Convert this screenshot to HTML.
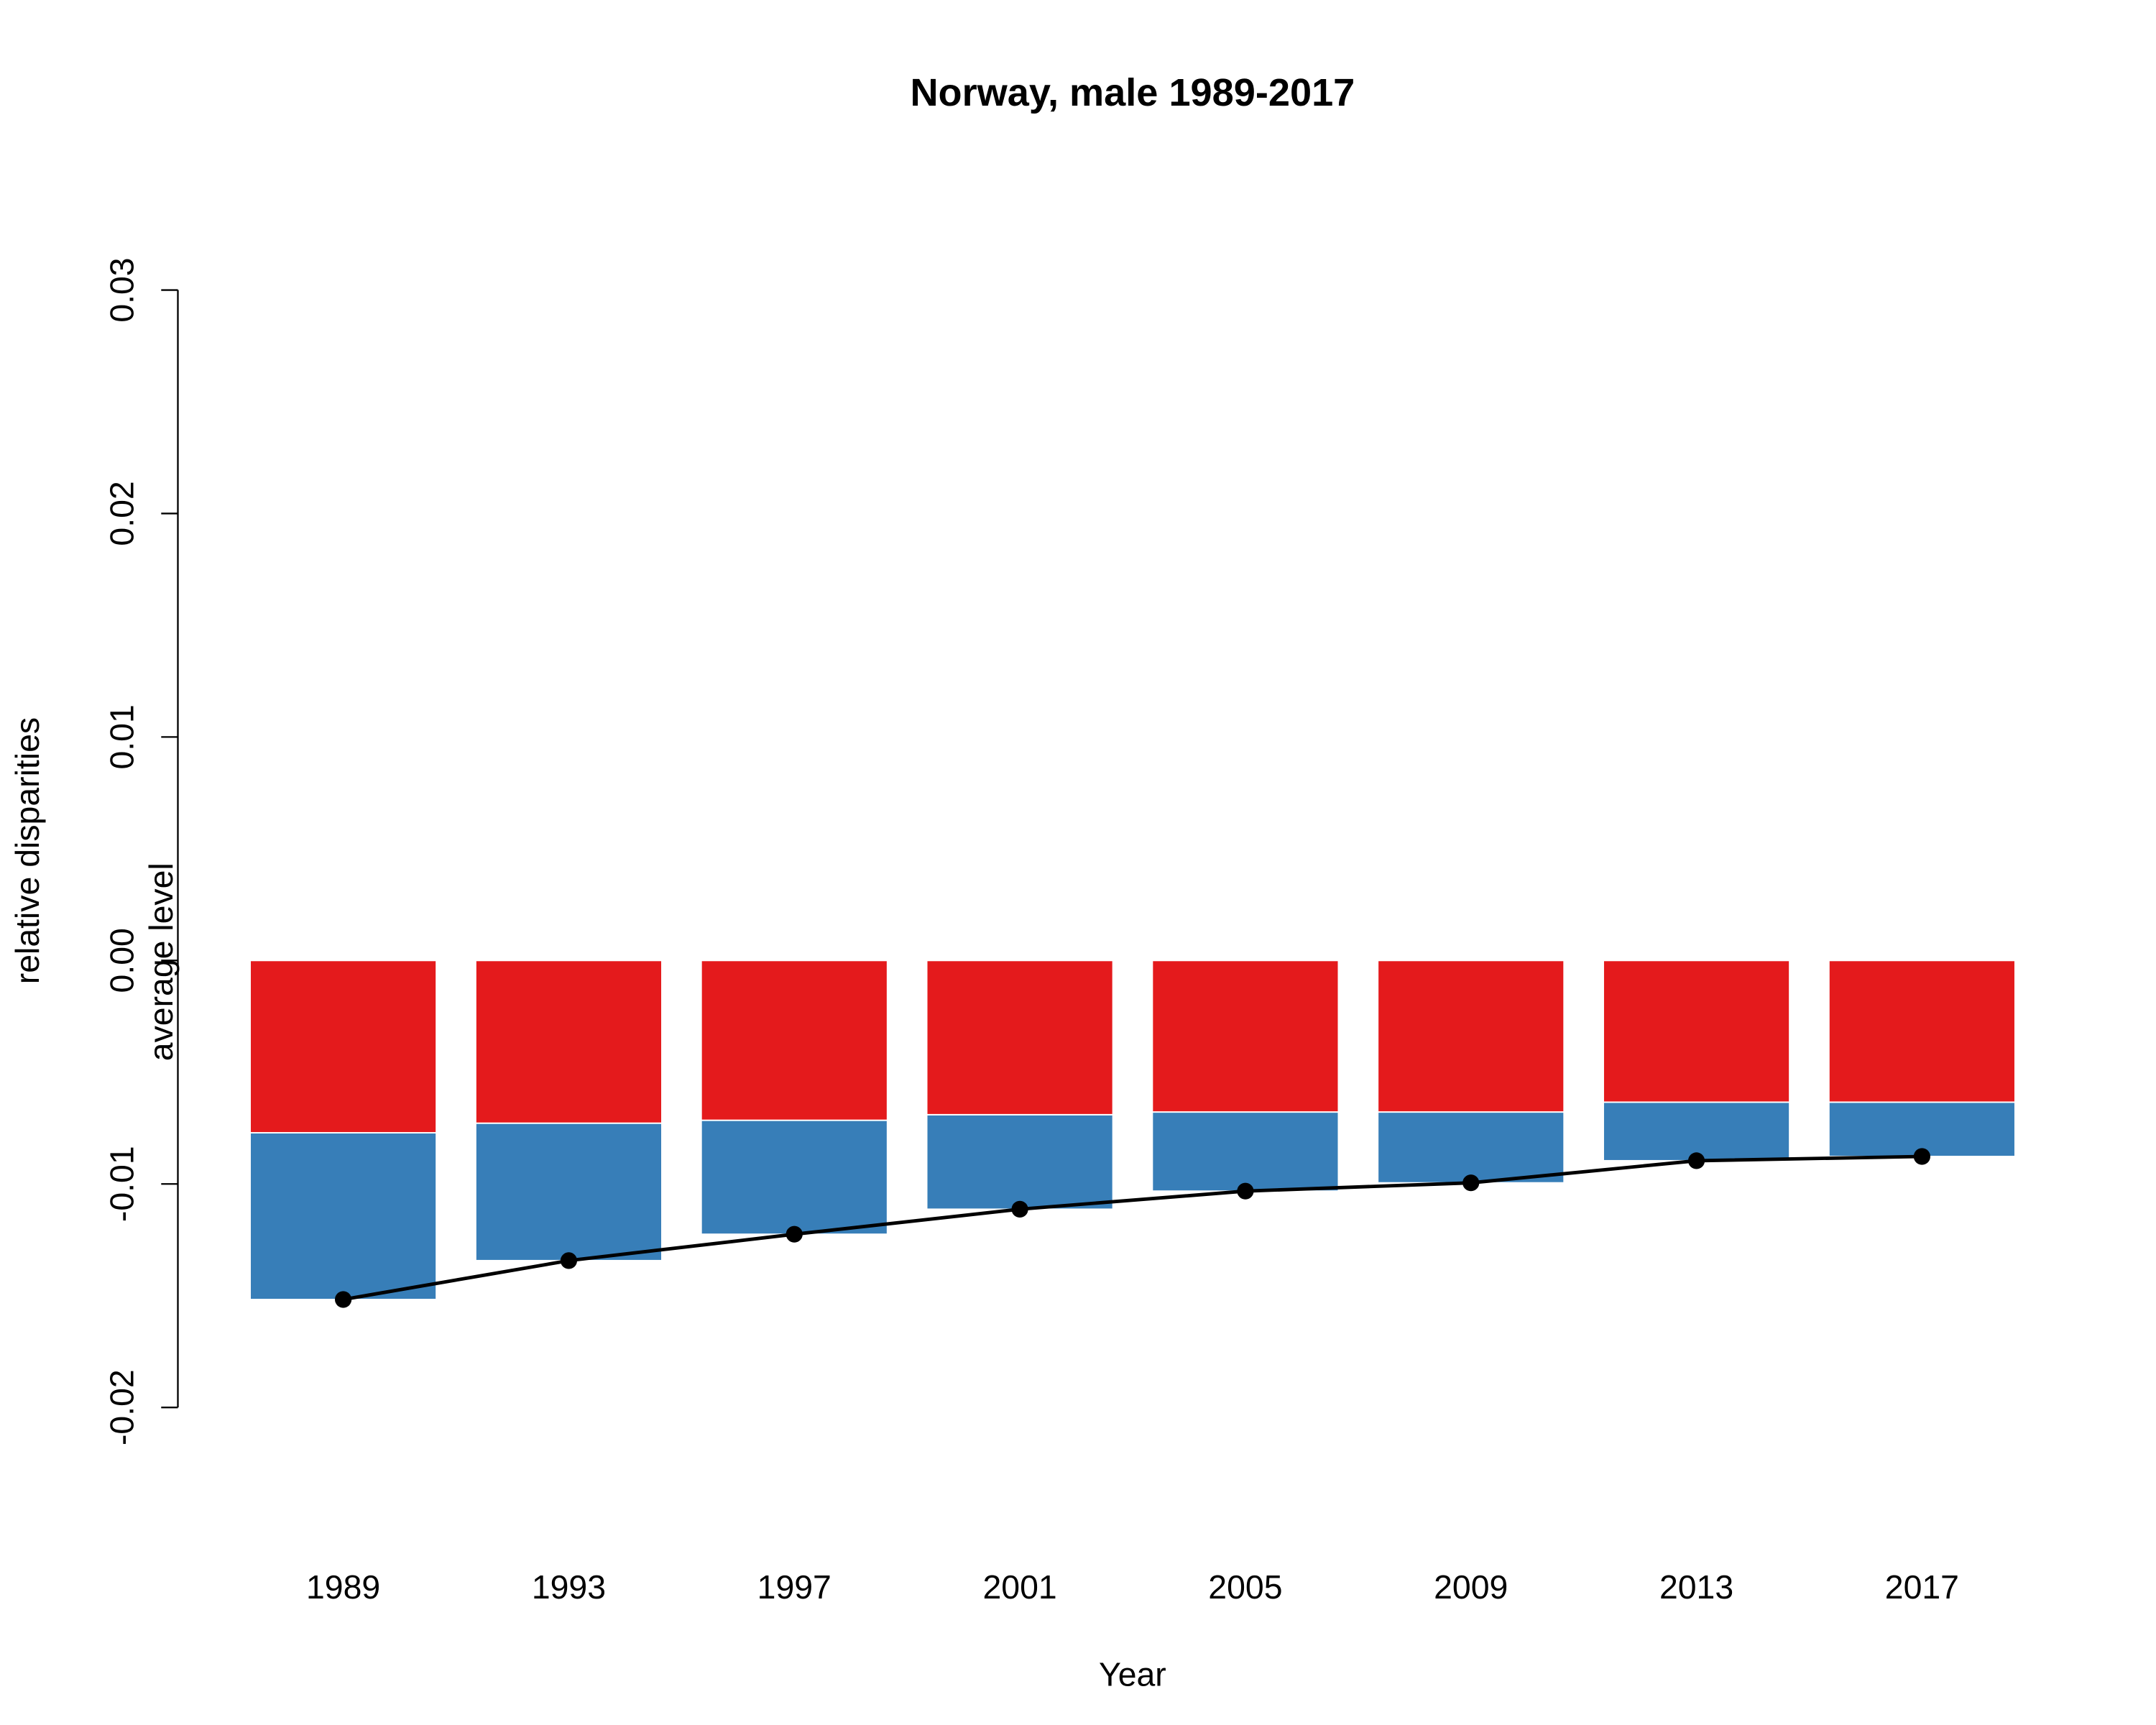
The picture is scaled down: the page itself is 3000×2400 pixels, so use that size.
<!DOCTYPE html>
<html><head><meta charset="utf-8"><style>html,body{margin:0;padding:0;background:#fff}svg{display:block}text{font-family:"Liberation Sans",Arial,sans-serif;fill:#000}</style></head>
<body>
<svg id="chart" width="3000" height="2400" viewBox="0 0 1551.5 1241" xmlns="http://www.w3.org/2000/svg">
<rect width="1551.5" height="1241" fill="#fff"/>
<text x="815" y="76" font-size="28" font-weight="bold" text-anchor="middle">Norway, male 1989-2017</text>
<text x="815" y="1213" font-size="24" text-anchor="middle">Year</text>
<text transform="translate(28,612) rotate(-90)" font-size="24" text-anchor="middle">relative disparities</text>
<text transform="translate(124,692) rotate(-90)" font-size="24" text-anchor="middle">average level</text>
<g id="yaxis"></g>
<g id="bars"></g>
<g id="xlabels"></g>
<g id="line"></g>
</svg>
<script>
const years = ["1989","1993","1997","2001","2005","2009","2013","2017"];
const redValues = [-0.00771,-0.00728,-0.00715,-0.0069,-0.00678,-0.00678,-0.00634,-0.00634];
const totalValues = [-0.01517,-0.01343,-0.01225,-0.01113,-0.01032,-0.00995,-0.00896,-0.00877];
const yTicks = [-0.02,-0.01,0,0.01,0.02,0.03];
const yTickLabels = ["-0.02","-0.01","0.00","0.01","0.02","0.03"];

const NS = "http://www.w3.org/2000/svg";
function y(v){ return 691 - v/0.01*160.8; }
function xc(i){ return 247 + i*162.3; }
const barW = 134;
function mk(tag, attrs, parent){
  const e = document.createElementNS(NS, tag);
  for (const k in attrs) e.setAttribute(k, attrs[k]);
  parent.appendChild(e); return e;
}
const ya = document.getElementById('yaxis');
const axl = mk('line',{x1:128,x2:128,y1:y(yTicks[yTicks.length-1]),y2:y(yTicks[0]),stroke:'#000','stroke-width':1.2},ya);


yTicks.forEach((t,i)=>{
  const tk = mk('line',{x1:116,x2:128,y1:y(t),y2:y(t),stroke:'#000','stroke-width':1.2},ya);
  
  
  const tx = mk('text',{transform:`translate(96,${y(t)}) rotate(-90)`,'font-size':24,'text-anchor':'middle'},ya);
  
  
  tx.textContent = yTickLabels[i];
});
const bg = document.getElementById('bars');
const xl = document.getElementById('xlabels');
years.forEach((yr,i)=>{
  const x0 = xc(i)-barW/2;
  const b = mk('rect',{x:x0,y:y(redValues[i]),width:barW,height:y(totalValues[i])-y(redValues[i]),fill:'#377eb8',stroke:'#fff','stroke-width':1},bg);
  
  
  const r = mk('rect',{x:x0,y:y(0),width:barW,height:y(redValues[i])-y(0),fill:'#e41a1c',stroke:'#fff','stroke-width':1},bg);
  
  
  const t = mk('text',{x:xc(i),y:1150,'font-size':24,'text-anchor':'middle'},xl);
  
  
  t.textContent = yr;
});
const lg = document.getElementById('line');
const pl = mk('polyline',{points:totalValues.map((v,i)=>xc(i)+','+y(v)).join(' '),fill:'none',stroke:'#000','stroke-width':2.5},lg);


totalValues.forEach((v,i)=>{
  const c = mk('circle',{cx:xc(i),cy:y(v),r:6,fill:'#000'},lg);
  
  
});
</script>
</body></html>
